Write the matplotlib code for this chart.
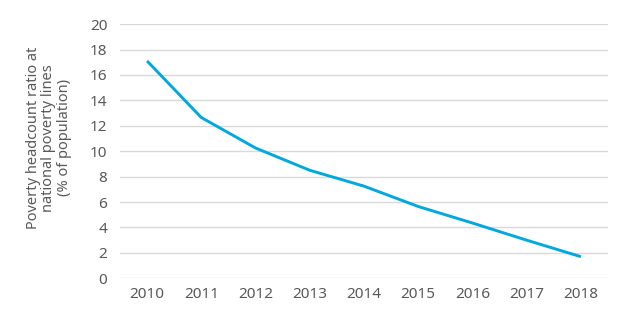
import matplotlib
matplotlib.use("Agg")
import matplotlib.pyplot as plt

years = ["2010", "2011", "2012", "2013", "2014", "2015", "2016", "2017", "2018"]
poverty_ratio = [17.1, 12.65, 10.25, 8.5, 7.25, 5.65, 4.35, 3.0, 1.7]
y_ticks = [0, 2, 4, 6, 8, 10, 12, 14, 16, 18, 20]
y_label = "Poverty headcount ratio at\nnational poverty lines\n(% of population)"

text_color = "#595959"
line_color = "#00A8DE"
grid_color = "#D9D9D9"

plt.rcParams["font.family"] = ["Noto Sans", "DejaVu Sans"]

fig = plt.figure(figsize=(6.2, 3.3), dpi=100)
ax = fig.add_axes([0.1935, 0.1567, 0.7871, 0.7703])

x = list(range(len(years)))
ax.plot(x, poverty_ratio, color=line_color, linewidth=2.1, solid_capstyle="butt", zorder=3)

ax.set_xlim(-0.5, len(years) - 0.5)
ax.set_ylim(0, 20)
ax.set_yticks(y_ticks)
ax.set_yticklabels([str(v) for v in y_ticks])
ax.set_xticks(x)
ax.set_xticklabels(years)

ax.grid(axis="y", color=grid_color, linewidth=1.0, zorder=0)
ax.set_axisbelow(True)
for s in ax.spines.values():
    s.set_visible(False)
ax.tick_params(axis="both", length=0, labelsize=11, colors=text_color)
ax.tick_params(axis="y", pad=9)
ax.tick_params(axis="x", pad=6.5)

fig.text(49 / 620, 1 - 138 / 330, y_label, rotation=90, ha="center", va="center",
         multialignment="center", color=text_color, fontsize=10.5, linespacing=1.05)

fig.savefig("out.png", dpi=100)
